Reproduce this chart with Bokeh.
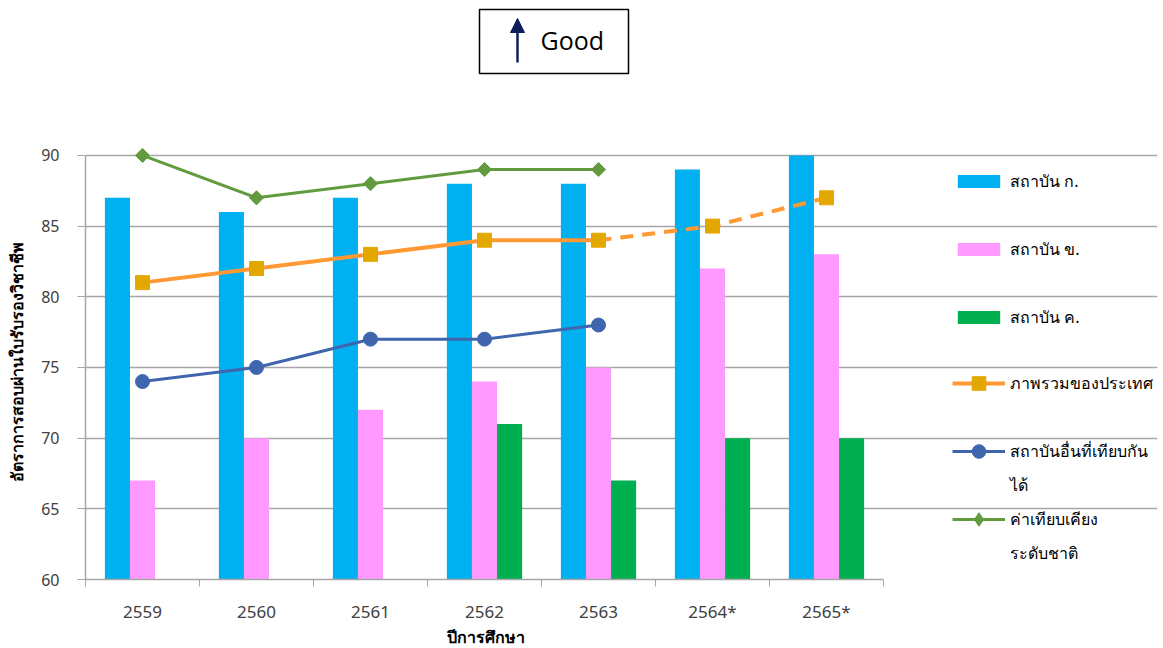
import numpy as np
from bokeh.plotting import figure
from bokeh.models import (Range1d, FixedTicker, Legend, LegendItem, Arrow, NormalHead,
                          Spacer, ColumnDataSource, Title)
from bokeh.layouts import column, row
from bokeh.core.properties import value
from bokeh.embed import file_html
from bokeh.resources import INLINE

# ---------------- data ----------------
years = ["2559", "2560", "2561", "2562", "2563", "2564*", "2565*"]
inst_a = [87, 86, 87, 88, 88, 89, 90]          # สถาบัน ก.
inst_b = [67, 70, 72, 74, 75, 82, 83]          # สถาบัน ข.
inst_c = [None, None, None, 71, 67, 70, 70]    # สถาบัน ค.
national = [81, 82, 83, 84, 84, 85, 87]        # ภาพรวมของประเทศ
national_solid_until = 4                        # index where the dashed (projected) part starts
peers = [74, 75, 77, 77, 78]                    # สถาบันอื่นที่เทียบกันได้
benchmark = [90, 87, 88, 89, 89]                # ค่าเทียบเคียงระดับชาติ

series_names = ["สถาบัน ก.", "สถาบัน ข.", "สถาบัน ค.", "ภาพรวมของประเทศ",
                "สถาบันอื่นที่เทียบกัน", "ค่าเทียบเคียง"]
series_names_cont = ["ได้", "ระดับชาติ"]        # wrapped second lines of the last two entries
y_title = "อัตราการสอบผ่านใบรับรองวิชาชีพ"
x_title = "ปีการศึกษา"
y_ticks = [60, 65, 70, 75, 80, 85, 90]

FONT = "Noto Sans"
C_A, C_B, C_C = "#00B0F0", "#FF99FF", "#00B050"
C_NAT_LINE, C_NAT_MARK = "#FF9933", "#E3A800"
C_PEER = "#3F65AF"
C_BENCH = "#629B3D"
GRID = "#A6A6A6"
TXT = "#404040"

n = len(years)
centers = [i + 0.5 for i in range(n)]
bw = 0.22

# ---------------- header box ----------------
b = figure(width=153, height=75, output_backend="svg", toolbar_location=None,
           x_range=Range1d(0, 149), y_range=Range1d(0, 64),
           x_axis_location=None, y_axis_location=None,
           min_border_left=2, min_border_right=2, min_border_top=9, min_border_bottom=2)
b.grid.visible = False
b.outline_line_color = "black"
b.outline_line_width = 1.5
b.outline_line_alpha = 1.0
navy = "#0E1E5B"
b.add_layout(Arrow(end=NormalHead(size=14, fill_color=navy, line_color=navy, line_width=1),
                   x_start=38, y_start=11, x_end=38, y_end=55,
                   line_color=navy, line_width=2.5))
b.text(x=[61], y=[34], text=["Good"], text_font=value("Open Sans"), text_font_size="25px",
       text_baseline="middle", text_align="left", text_color="black")

# ---------------- main chart ----------------
FIG_W = 1160
FL, FR, FB = 85, 883, 579     # plot-area edges on the page (categories span FL..FR)
FRAME_R = FIG_W - 3           # frame extends to the right to host the legend
Y_TOP = 90.7                  # a little headroom so the top markers are not clipped
FT = FB - (Y_TOP - 60) * (424 / 30)
X_END = n * (FRAME_R - FL) / (FR - FL)
fig_top = 75
fig_h = 648 - fig_top
p = figure(width=FIG_W, height=fig_h, output_backend="svg", toolbar_location=None,
           x_range=Range1d(0, X_END), y_range=Range1d(60, Y_TOP),
           min_border_left=FL, min_border_right=FIG_W - FRAME_R,
           min_border_top=int(round(FT - fig_top)),
           min_border_bottom=fig_h - (FB - fig_top))
p.outline_line_color = None
p.background_fill_color = "white"

src_a = ColumnDataSource(dict(x=[c - bw for c in centers], top=inst_a))
src_b = ColumnDataSource(dict(x=centers, top=inst_b))
cx = [c + bw for c, v in zip(centers, inst_c) if v is not None]
cv = [v for v in inst_c if v is not None]
src_c = ColumnDataSource(dict(x=cx, top=cv))

r_a = p.vbar(x="x", top="top", bottom=60, width=bw, source=src_a, fill_color=C_A, line_color=None)
r_b = p.vbar(x="x", top="top", bottom=60, width=bw, source=src_b, fill_color=C_B, line_color=None)
r_c = p.vbar(x="x", top="top", bottom=60, width=bw, source=src_c, fill_color=C_C, line_color=None)

k = national_solid_until
r_nat_l = p.line(centers[:k + 1], national[:k + 1], line_color=C_NAT_LINE, line_width=4)
p.line(centers[k:], national[k:], line_color=C_NAT_LINE, line_width=4, line_dash="13 9")
r_nat_m = p.scatter(centers, national, marker="square", size=14, fill_color=C_NAT_MARK,
                    line_color=C_NAT_MARK)

r_peer_l = p.line(centers[:len(peers)], peers, line_color=C_PEER, line_width=3)
r_peer_m = p.scatter(centers[:len(peers)], peers, marker="circle", size=14,
                     fill_color=C_PEER, line_color=C_PEER)

r_b_l = p.line(centers[:len(benchmark)], benchmark, line_color=C_BENCH, line_width=3)
r_b_m = p.scatter(centers[:len(benchmark)], benchmark, marker="square", angle=np.pi / 4,
                  size=10, fill_color=C_BENCH, line_color=C_BENCH)
# legend swatch for the benchmark markers (hidden in the plot, drawn only in the legend)
r_b_leg = p.scatter(centers[:len(benchmark)], benchmark, marker="diamond",
                    fill_color=C_BENCH, line_color=C_BENCH, visible=False)

# invisible renderer used for blank / continuation rows of the legend
r_blank = p.line([], [], line_alpha=0)

# axes
xa = p.xaxis[0]
xa.bounds = (0, n)
xa.ticker = FixedTicker(ticks=centers, minor_ticks=[float(i) for i in range(n + 1)])
xa.major_label_overrides = {c: y for c, y in zip(centers, years)}
xa.major_tick_line_color = None
xa.minor_tick_in = 0
xa.minor_tick_out = 7
xa.minor_tick_line_color = GRID
xa.axis_line_color = GRID
xa.axis_line_width = 1.5
xa.major_label_standoff = 13
xa.major_label_text_font = FONT
xa.major_label_text_font_size = "17px"
xa.major_label_text_color = TXT

# x-axis title, placed under the category span (not the whole frame)
p.add_layout(Title(text=x_title, align="left", offset=446 - FL, standoff=-4,
                   text_font=FONT, text_font_size="16px", text_font_style="bold",
                   text_color="black"), "below")

ya = p.yaxis[0]
ya.ticker = FixedTicker(ticks=y_ticks)
ya.bounds = (60, 90)
ya.minor_tick_line_color = None
ya.major_tick_in = 0
ya.major_tick_out = 8
ya.major_tick_line_color = GRID
ya.axis_line_color = GRID
ya.axis_line_width = 1.5
ya.major_label_standoff = 18
ya.major_label_text_font = FONT
ya.major_label_text_font_size = "16px"
ya.major_label_text_color = TXT
ya.axis_label = y_title
ya.axis_label_text_font = FONT
ya.axis_label_text_font_size = "16px"
ya.axis_label_text_font_style = "bold"
ya.axis_label_text_color = "black"
ya.axis_label_standoff = 10

p.xgrid.visible = False
p.ygrid.grid_line_color = GRID
p.ygrid.grid_line_width = 1.5
p.ygrid.ticker = FixedTicker(ticks=y_ticks)
p.ygrid.bounds = (0, n)


def style_legend(lg):
    lg.border_line_color = None
    lg.background_fill_alpha = 0
    lg.inactive_fill_alpha = 0
    lg.padding = 0
    lg.margin = 0
    lg.glyph_width = 53
    lg.label_standoff = 5
    lg.label_text_font = FONT
    lg.label_text_font_size = "16px"
    lg.label_text_color = "black"
    lg.label_text_baseline = "middle"


# bar entries (thin swatches)
leg1 = Legend(items=[
    LegendItem(label=series_names[0], renderers=[r_a]),
    LegendItem(label=" ", renderers=[r_blank]),
    LegendItem(label=series_names[1], renderers=[r_b]),
    LegendItem(label=" ", renderers=[r_blank]),
    LegendItem(label=series_names[2], renderers=[r_c]),
], orientation="vertical")
style_legend(leg1)
leg1.glyph_height = 16
leg1.label_height = 26
leg1.spacing = 8
h1 = 5 * 26 + 4 * 8
leg1.location = (952 - FL, int(round(FB - (181 - 13 + h1))))
p.add_layout(leg1, "center")

# line entries (taller swatch area so markers are full size)
leg2 = Legend(items=[
    LegendItem(label=series_names[3], renderers=[r_nat_l, r_nat_m]),
    LegendItem(label=" ", renderers=[r_blank]),
    LegendItem(label=series_names[4], renderers=[r_peer_l, r_peer_m]),
    LegendItem(label=series_names_cont[0], renderers=[r_blank]),
    LegendItem(label=series_names[5], renderers=[r_b_l, r_b_leg]),
    LegendItem(label=series_names_cont[1], renderers=[r_blank]),
], orientation="vertical")
style_legend(leg2)
leg2.glyph_height = 34
leg2.label_height = 26
leg2.spacing = 0
h2 = 6 * 34
leg2.location = (952 - FL, int(round(FB - (383 - 17 + h2))))
p.add_layout(leg2, "center")

layout = column(row(Spacer(width=477, height=75), b), p)
open("out.html", "w").write(file_html(layout, INLINE))
